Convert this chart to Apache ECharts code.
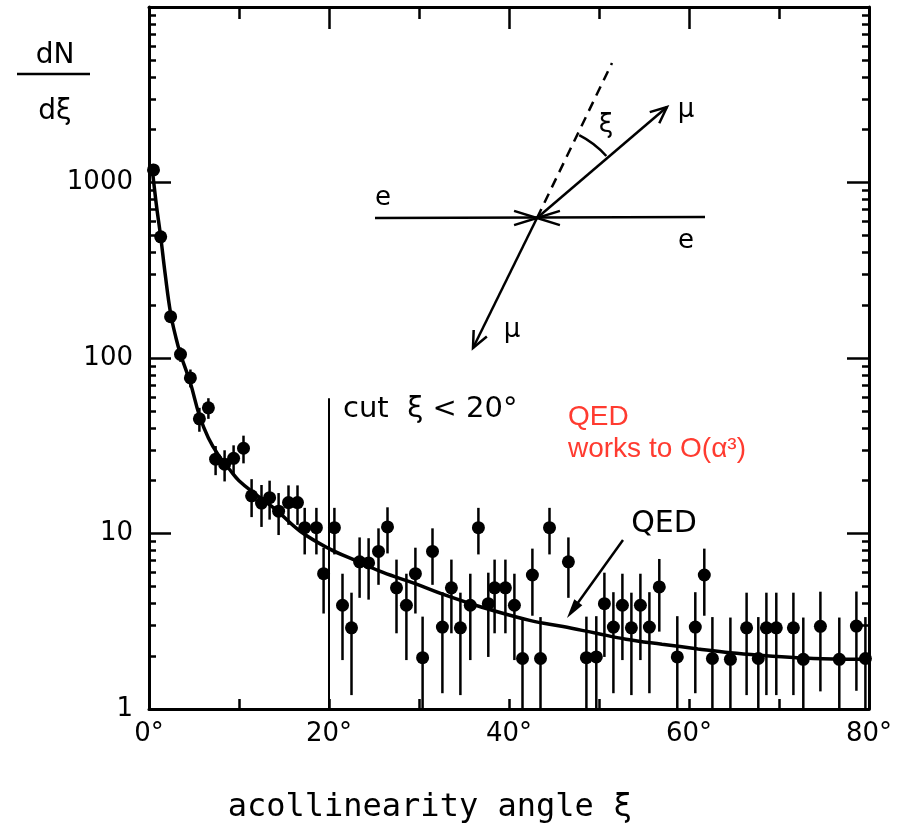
<!DOCTYPE html>
<html>
<head>
<meta charset="utf-8">
<script src="https://cdn.jsdelivr.net/npm/echarts@6.0.0/dist/echarts.min.js"></script>
<style>
html,body{margin:0;padding:0;background:#fff;}
#main{width:904px;height:836px;}
</style>
</head>
<body>
<div id="main"></div>
<script>
// measured points: acollinearity angle (deg), dN/dξ, error
var angle = [0.5, 1.3, 2.4, 3.5, 4.6, 5.6, 6.6, 7.4, 8.4, 9.4,
  10.5, 11.4, 12.5, 13.4, 14.4, 15.5, 16.5, 17.3, 18.6, 19.4,
  20.6, 21.5, 22.5, 23.4, 24.4, 25.5, 26.5, 27.5, 28.6, 29.6,
  30.4, 31.5, 32.6, 33.6, 34.6, 35.7, 36.6, 37.7, 38.4, 39.6,
  40.6, 41.5, 42.6, 43.5, 44.5, 46.6, 48.6, 49.7, 50.6, 51.6,
  52.6, 53.6, 54.6, 55.6, 56.7, 58.7, 60.7, 61.7, 62.6, 64.6,
  66.4, 67.7, 68.6, 69.7, 71.6, 72.7, 74.6, 76.7, 78.6, 79.6];
var counts = [1180, 490, 172, 105, 77, 45, 52, 26.5, 24.8, 26.8,
  30.6, 16.4, 14.9, 16.0, 13.4, 15.0, 15.0, 10.8, 10.8, 5.9,
  10.8, 3.9, 2.9, 6.9, 6.8, 7.9, 10.9, 4.9, 3.9, 5.9,
  1.96, 7.9, 2.93, 4.9, 2.9, 3.9, 10.8, 3.98, 4.9, 4.9,
  3.9, 1.94, 5.8, 1.94, 10.8, 6.9, 1.96, 1.98, 3.98, 2.93,
  3.9, 2.9, 3.9, 2.93, 4.96, 1.98, 2.93, 5.8, 1.94, 1.92,
  2.9, 1.94, 2.9, 2.9, 2.9, 1.92, 2.96, 1.92, 2.97, 1.94];
var errs = [35, 22, 13, 10, 9, 7, 7, 5, 5, 5,
  5.5, 4, 4, 4, 3.6, 3.8, 3.8, 3.2, 3.2, 2.4,
  3.2, 2, 1.7, 2.6, 2.6, 2.8, 3.2, 2.2, 2, 2.4,
  1.4, 2.8, 1.7, 2.2, 1.7, 2, 3.2, 2, 2.2, 2.2,
  2, 1.4, 2.4, 1.4, 3.2, 2.6, 1.4, 1.4, 2, 1.7,
  2, 1.7, 2, 1.7, 2.2, 1.4, 1.7, 2.4, 1.4, 1.4,
  1.7, 1.4, 1.7, 1.7, 1.7, 1.4, 1.7, 1.4, 1.7, 1.4];
// QED prediction curve
var qedAngle = [0.3, 0.8, 1.3, 1.8, 2.4, 3, 3.5, 4.6, 5.6, 6.6, 7.7, 9, 10, 12, 14,
  16.8, 20, 23, 26, 29.5, 32.7, 37, 42.3, 46, 49.7, 53, 57, 61, 64.6, 68, 72, 76, 80];
var qedValue = [1275, 760, 490, 300, 180, 130, 105, 72, 47, 35, 28, 23, 20, 16.5, 13.8,
  10.3, 8.2, 7, 6, 5.2, 4.5, 3.8, 3.2, 2.95, 2.7, 2.5, 2.34, 2.2, 2.09, 2.02, 1.96, 1.93, 1.92];
var cutAngle = 20;
var cutTop = 59;
var decades = [1, 10, 100, 1000];
var minorSteps = [2, 3, 4, 5, 6, 7, 8, 9];

var minorTicks = [];
for (var d = 0; d < decades.length; d++) {
  for (var s = 0; s < minorSteps.length; s++) {
    minorTicks.push(decades[d] * minorSteps[s]);
  }
}

var BLACK = '#000';
var FONT = '"DejaVu Sans"';

function arrowHead(tx, ty, fx, fy, len, spread) {
  var a = Math.atan2(ty - fy, tx - fx);
  return [
    [tx - len * Math.cos(a - spread), ty - len * Math.sin(a - spread)],
    [tx, ty],
    [tx - len * Math.cos(a + spread), ty - len * Math.sin(a + spread)]
  ];
}
function seg(x1, y1, x2, y2, w, dash) {
  return {type: 'line', shape: {x1: x1, y1: y1, x2: x2, y2: y2},
    style: {stroke: BLACK, lineWidth: w || 2.5, lineDash: dash || null}, silent: true};
}
function poly(points, w) {
  return {type: 'polyline', shape: {points: points}, style: {stroke: BLACK, lineWidth: w || 2.5, fill: null}, silent: true};
}
function txt(x, y, text, font, color, align) {
  return {type: 'text', x: x, y: y, silent: true,
    style: {text: text, font: font, fill: color || BLACK, textAlign: align || 'center', align: align || 'center',
      textVerticalAlign: 'middle', verticalAlign: 'middle'}};
}

// event diagram (centre of collision)
var cx = 537, cy = 218;
var graphics = [
  // dN / dξ
  txt(55, 56, 'dN', '28px ' + FONT),
  seg(17, 74, 90, 74, 2.5),
  txt(55, 112, 'dξ', '28px ' + FONT),
  // diagram
  seg(375, 218, 705, 217, 2.5),
  poly(arrowHead(cx, cy, 500, cy, 24, 0.3)),
  poly(arrowHead(cx, cy, 580, cy, 24, 0.3)),
  seg(cx, cy, 667, 107, 2.5),
  poly(arrowHead(667, 107, cx, cy, 18, 0.42)),
  seg(cx, cy, 473, 348, 2.5),
  poly(arrowHead(473, 348, cx, cy, 18, 0.42)),
  seg(cx, cy, 612, 63, 2.5, [10, 7]),
  {type: 'arc', shape: {cx: cx, cy: cy, r: 93, startAngle: -1.10, endAngle: -0.73, clockwise: true},
    style: {stroke: BLACK, lineWidth: 2.5, fill: null}, silent: true},
  txt(383, 198, 'e', '26px ' + FONT),
  txt(686, 241, 'e', '26px ' + FONT),
  txt(686, 110, 'μ', '26px ' + FONT),
  txt(512, 330, 'μ', '26px ' + FONT),
  txt(606, 125, 'ξ', '26px ' + FONT),
  // annotations
  txt(343, 409, 'cut  ξ < 20°', '29px ' + FONT, BLACK, 'left'),
  txt(664, 524, 'QED', '30px ' + FONT),
  seg(623, 540, 572, 611, 2.5),
  {type: 'polygon', shape: {points: arrowHead(567, 618, 623, 540, 20, 0.25)}, style: {fill: BLACK}, silent: true},
  txt(568, 417, 'QED', '28px "Liberation Sans"', '#ff3b30', 'left'),
  txt(568, 449, 'works to O(α³)', '28px "Liberation Sans"', '#ff3b30', 'left'),
  // axis title
  txt(430, 808, 'acollinearity angle ξ', '32px "DejaVu Sans Mono"')
];

function xAxisCfg(pos, tickLen, minorLen, showLabel) {
  return {
    type: 'value', min: 0, max: 80, interval: 20, position: pos,
    axisLine: {show: true, onZero: false, lineStyle: {color: BLACK, width: 3}},
    axisTick: {show: true, inside: true, length: tickLen, lineStyle: {color: BLACK, width: 2.5}},
    minorTick: {show: true, splitNumber: 2, length: minorLen, lineStyle: {color: BLACK, width: 2.5}},
    axisLabel: {show: showLabel, formatter: '{value}°', color: BLACK, fontSize: 26, fontFamily: 'DejaVu Sans', margin: 12},
    splitLine: {show: false}, minorSplitLine: {show: false}
  };
}
function yAxisCfg(pos, major, showLabel) {
  var a = {
    type: 'log', logBase: 10, min: 1, max: 10000, position: pos,
    axisLine: {show: major, onZero: false, lineStyle: {color: BLACK, width: 3}},
    axisTick: {show: true, inside: true, length: major ? 22 : 7, lineStyle: {color: BLACK, width: 2.5}},
    axisLabel: {show: showLabel, color: BLACK, fontSize: 26, fontFamily: 'DejaVu Sans', margin: 16,
      formatter: function (v) { return v >= 10000 ? '' : String(v); }},
    splitLine: {show: false}
  };
  if (!major) a.axisTick.customValues = minorTicks;
  return a;
}

var chart = echarts.init(document.getElementById('main'));
chart.setOption({
  animation: false,
  backgroundColor: '#fff',
  grid: {left: 149, right: 35, top: 7, bottom: 127, containLabel: false},
  xAxis: [xAxisCfg('bottom', 10, 10, true), xAxisCfg('top', 22, 12, false)],
  yAxis: [yAxisCfg('left', true, true), yAxisCfg('left', false, false),
    yAxisCfg('right', true, false), yAxisCfg('right', false, false)],
  graphic: graphics,
  series: [
    {
      name: 'QED', type: 'line', xAxisIndex: 0, yAxisIndex: 0,
      data: qedAngle.map(function (a, i) { return [a, qedValue[i]]; }),
      smooth: 0.4, showSymbol: false, symbol: 'none',
      lineStyle: {color: BLACK, width: 3.5}, z: 2,
      markLine: {
        silent: true, symbol: 'none', label: {show: false},
        lineStyle: {color: BLACK, width: 2, type: 'solid'},
        data: [[{coord: [cutAngle, 1]}, {coord: [cutAngle, cutTop]}]]
      }
    },
    {
      name: 'errors', type: 'custom', xAxisIndex: 0, yAxisIndex: 0,
      data: angle.map(function (a, i) { return [a, Math.max(counts[i] - errs[i], 1), counts[i] + errs[i]]; }),
      encode: {x: 0, y: [1, 2]},
      renderItem: function (params, api) {
        var p1 = api.coord([api.value(0), api.value(1)]);
        var p2 = api.coord([api.value(0), api.value(2)]);
        return {type: 'line', shape: {x1: p1[0], y1: p1[1], x2: p2[0], y2: p2[1]},
          style: {stroke: BLACK, lineWidth: 2.5}};
      },
      silent: true, z: 3
    },
    {
      name: 'data', type: 'scatter', xAxisIndex: 0, yAxisIndex: 0,
      data: angle.map(function (a, i) { return [a, counts[i]]; }),
      symbol: 'circle', symbolSize: 13,
      itemStyle: {color: BLACK, opacity: 1}, z: 4
    }
  ]
});
</script>
</body>
</html>
